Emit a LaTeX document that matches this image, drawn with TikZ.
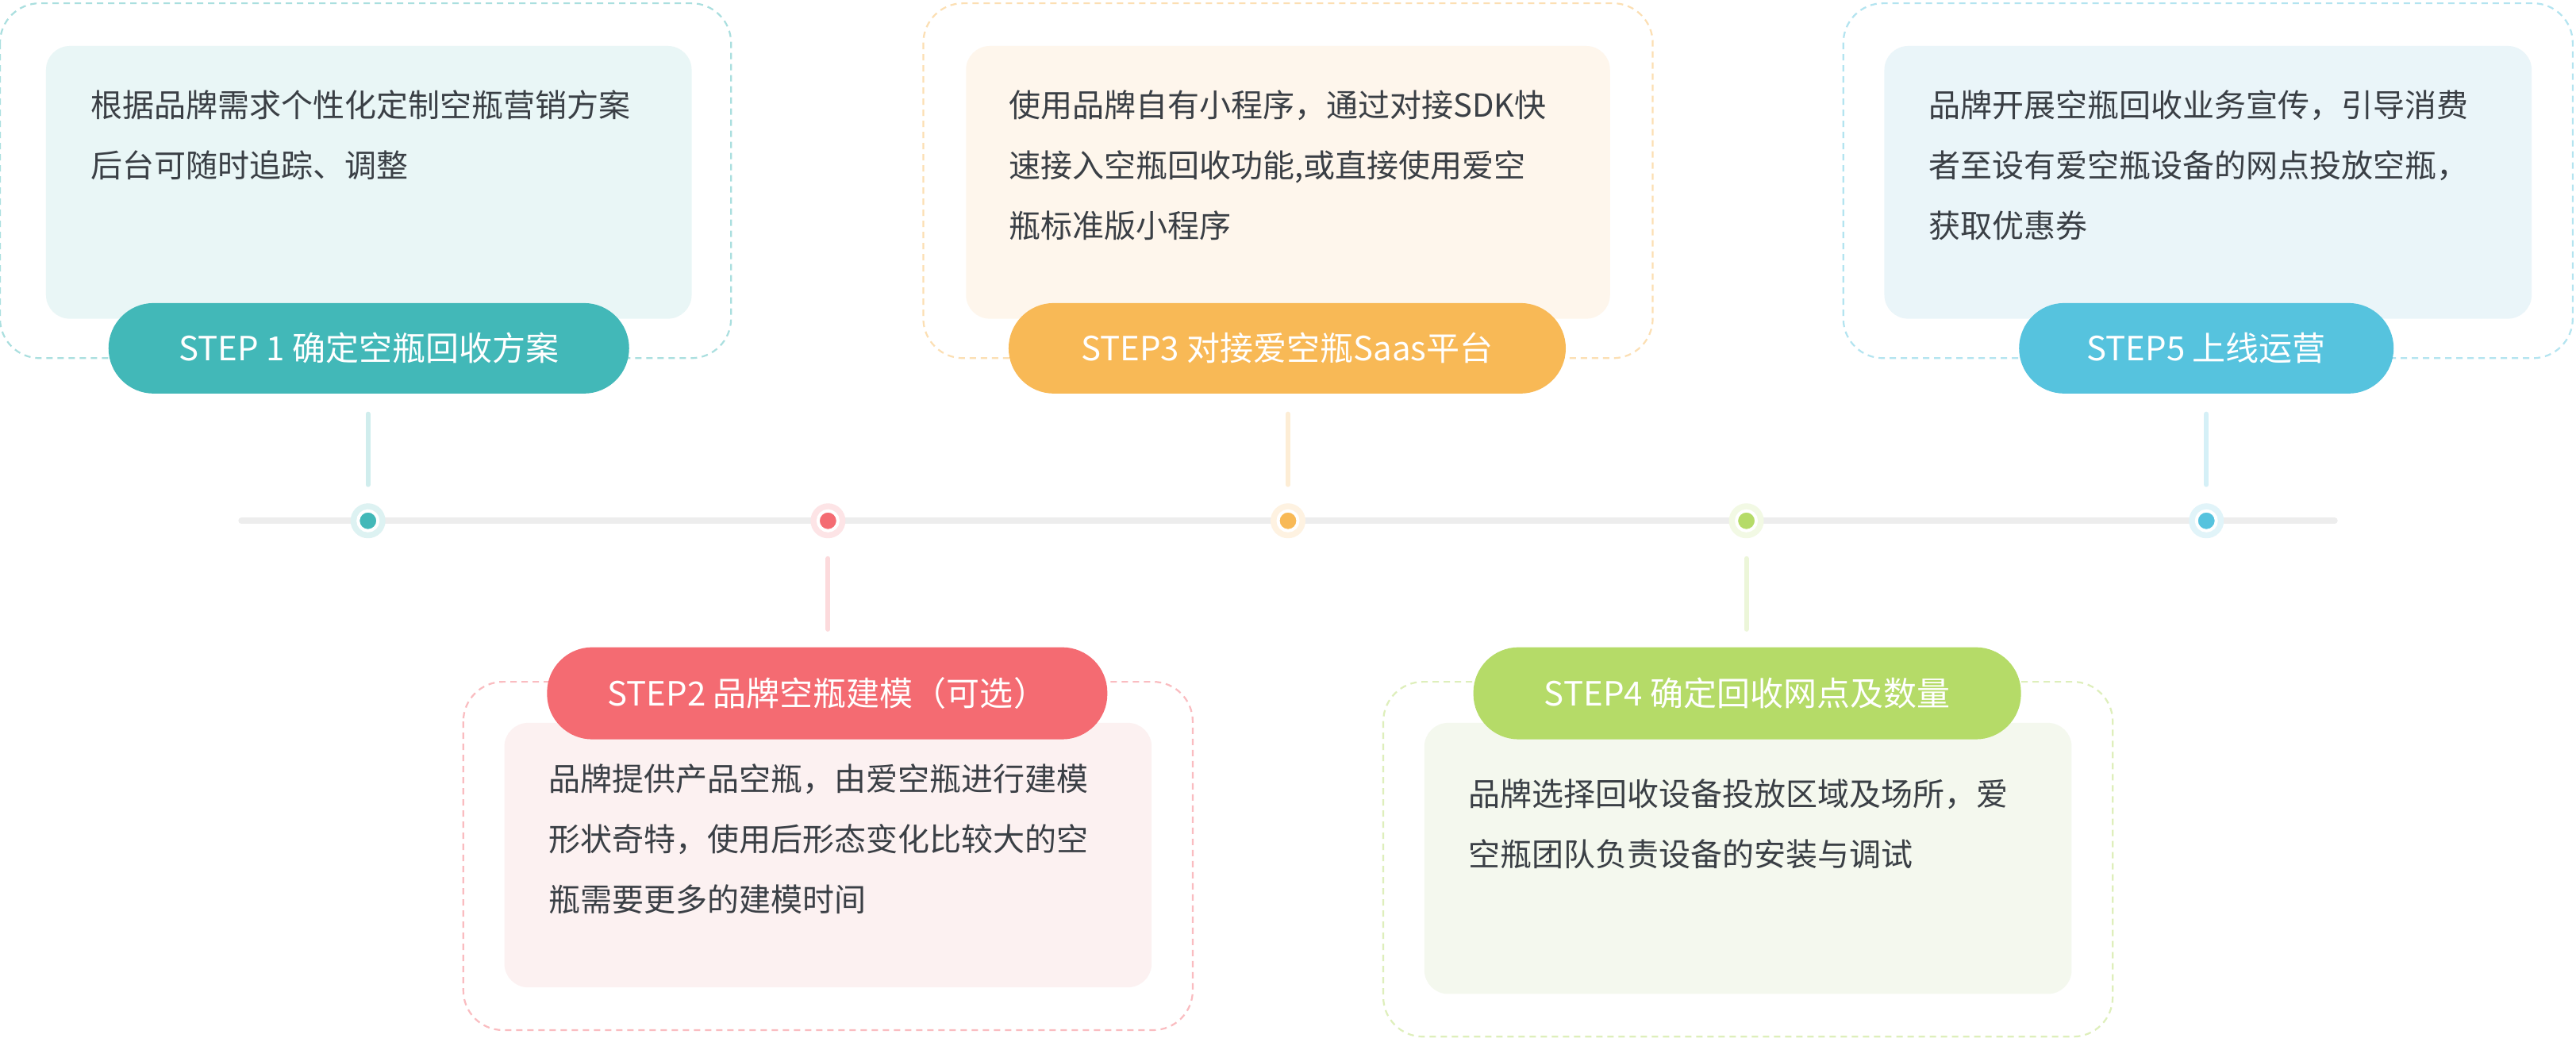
\documentclass[tikz,border=0pt]{standalone}
\usepackage{fontspec}
\setmainfont{Noto Sans CJK SC}
\definecolor{tealc}{HTML}{42B8B8}\definecolor{tealf}{HTML}{E9F6F6}
\definecolor{redc}{HTML}{F46B72}\definecolor{redf}{HTML}{FCF1F1}
\definecolor{orc}{HTML}{F8B956}\definecolor{orf}{HTML}{FEF6EC}
\definecolor{grc}{HTML}{B5DB68}\definecolor{grf}{HTML}{F4F8EE}
\definecolor{blc}{HTML}{56C3DE}\definecolor{blf}{HTML}{EAF5F9}
\definecolor{txt}{HTML}{3A3F45}
\tikzset{
 outer/.style={draw=#1!45, dashed, dash pattern=on 8pt off 6pt, line width=2.2pt, rounded corners=50pt},
 inner/.style={fill=#1, rounded corners=30pt},
 pill/.style={fill=#1, text=white, rounded corners=57pt, inner sep=0pt, font=\fontsize{42}{50}\selectfont},
 body/.style={text=txt, anchor=north west, align=left, inner sep=0pt, font=\fontsize{40}{76}\selectfont},
 stem/.style={line width=6pt, line cap=round, draw=#1!25},
 ring/.style={circle, fill=#1!18, minimum size=44pt, inner sep=0pt},
 dotc/.style={circle, fill=#1, minimum size=25pt, inner sep=0pt, draw=white, line width=4pt},
}
\begin{document}
\begin{tikzpicture}[x=2.07pt,y=-2.07pt]
\useasboundingbox[fill=white] (0,0) rectangle (1568,634);
% timeline
\draw[line width=8pt, line cap=round, draw=black!7] (147,317) coordinate (ls) -- (1421,317) coordinate (le);
% boxes
\draw[outer=tealc] (0,2) rectangle (445,218);
\fill[inner=tealf] (28,28) rectangle (421,194);
\draw[outer=orc] (562,2) rectangle (1006,218);
\fill[inner=orf] (588,28) rectangle (980,194);
\draw[outer=blc] (1122,2) rectangle (1566,218);
\fill[inner=blf] (1147,28) rectangle (1541,194);
\draw[outer=redc] (282,415) rectangle (726,627);
\fill[inner=redf] (307,440) rectangle (701,601);
\draw[outer=grc] (842,415) rectangle (1286,631);
\fill[inner=grf] (867,440) rectangle (1261,605);
% pills
\node[pill=tealc, minimum width=656pt, minimum height=114pt] (p1) at (224.5,212) {STEP 1 确定空瓶回收方案};
\node[pill=orc, minimum width=702pt, minimum height=114pt] (p3) at (783.5,212) {STEP3 对接爱空瓶Saas平台};
\node[pill=blc, minimum width=472pt, minimum height=114pt] (p5) at (1343,212) {STEP5 上线运营};
\node[pill=redc, minimum width=706pt, minimum height=116pt] (p2) at (503.5,422) {STEP2 品牌空瓶建模（可选）};
\node[pill=grc, minimum width=690pt, minimum height=116pt] (p4) at (1063.5,422) {STEP4 确定回收网点及数量};
% texts
\node[body] (t1) at (55,55) {根据品牌需求个性化定制空瓶营销方案\\后台可随时追踪、调整};
\node[body] (t3) at (614,55) {使用品牌自有小程序，通过对接SDK快\\速接入空瓶回收功能,或直接使用爱空\\瓶标准版小程序};
\node[body] (t5) at (1174,55) {品牌开展空瓶回收业务宣传，引导消费\\者至设有爱空瓶设备的网点投放空瓶，\\获取优惠券};
\node[body] (t2) at (334,465) {品牌提供产品空瓶，由爱空瓶进行建模\\形状奇特，使用后形态变化比较大的空\\瓶需要更多的建模时间};
\node[body] (t4) at (894,474) {品牌选择回收设备投放区域及场所，爱\\空瓶团队负责设备的安装与调试};
% dots
\foreach \n/\x/\c in {1/224/tealc,2/504/redc,3/784/orc,4/1063/grc,5/1343/blc}{
  \node[ring=\c] (r\n) at (\x,317) {};
  \node[dotc=\c] (d\n) at (\x,317) {};
}
% stems
\foreach \n/\c in {1/tealc,3/orc,5/blc}{
  \path (r\n) ++(0,-65) coordinate (sa\n) ++(0,43) coordinate (sb\n);
  \draw[stem=\c] (sa\n) -- (sb\n);
}
\foreach \n/\c in {2/redc,4/grc}{
  \path (r\n) ++(0,23) coordinate (sa\n) ++(0,43) coordinate (sb\n);
  \draw[stem=\c] (sa\n) -- (sb\n);
}
\end{tikzpicture}
\end{document}
